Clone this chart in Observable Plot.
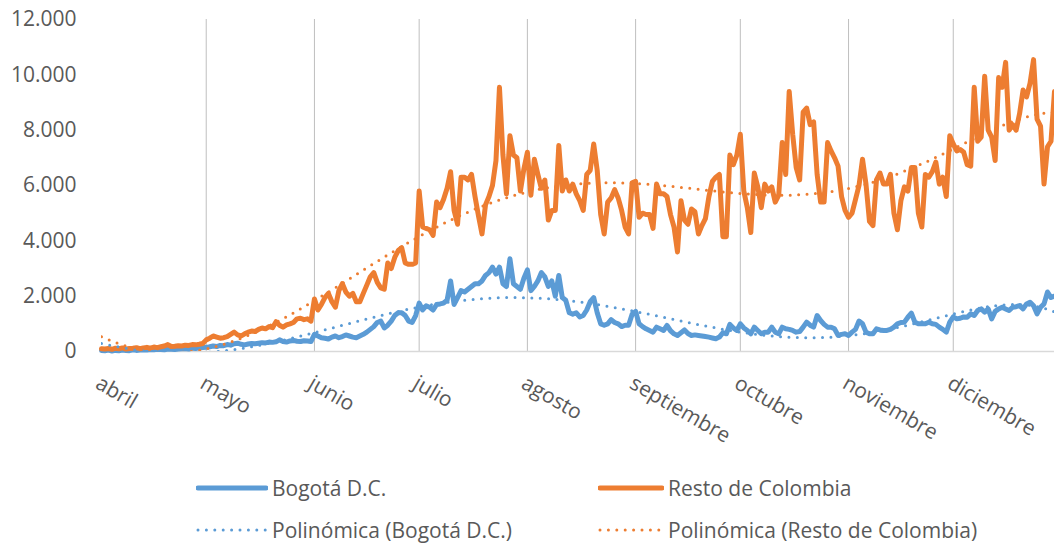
<!DOCTYPE html>
<html>
<head>
<meta charset="utf-8">
<script src="https://cdn.jsdelivr.net/npm/d3@7"></script>
<script src="https://cdn.jsdelivr.net/npm/@observablehq/plot@0.6"></script>
<style>
  html, body { margin: 0; padding: 0; background: #fff; }
  #wrap { position: relative; width: 1054px; height: 547px; font-family: 'Open Sans', sans-serif; color: #595959; }
  .leg { position: absolute; display: flex; align-items: center; font-size: 21px; white-space: nowrap; height: 30px; }
  .leg svg { display: block; }
</style>
</head>
<body>
<div id="wrap">
  <div id="chart"></div>
</div>
<script>
// ---- categories ----
const startDate = Date.UTC(2020, 3, 1);   // 1 abril 2020
const endDate = Date.UTC(2020, 11, 31);   // exclusive (last day 30 dic)
const monthLabels = ["abril", "mayo", "junio", "julio", "agosto", "septiembre", "octubre", "noviembre", "diciembre"];
const yTicks = [0, 2000, 4000, 6000, 8000, 10000, 12000];
const seriesNames = ["Bogotá D.C.", "Resto de Colombia", "Polinómica (Bogotá D.C.)", "Polinómica (Resto de Colombia)"];

// ---- Bogotá D.C. daily values, by month ----
const bogAbr = [40,30,50,20,40,30,50,40,30,60,40,50,60,50,70,60,80,70,60,90,80,70,90,100,110,90,120,110,130,140];
const bogMay = [150,170,200,180,220,210,250,230,280,300,260,240,270,290,280,300,320,310,340,330,350,420,360,340,380,400,370,360,390,380,360];
const bogJun = [620,560,500,480,450,520,560,500,540,600,560,520,500,560,620,700,800,900,1050,1100,850,950,1100,1300,1400,1400,1300,1100,1050,1300];
const bogJul = [1750,1500,1650,1600,1500,1700,1720,1750,1850,2550,1700,1950,2200,2150,2250,2350,2450,2450,2550,2750,2850,3050,2800,3050,2450,2350,3350,2450,2350,2250,2650];
const bogAgo = [2950,2200,2350,2550,2850,2700,2350,2550,2000,2750,1950,1850,1400,1350,1400,1250,1300,1500,1800,1950,1400,1000,950,1000,1150,1050,1000,900,950,950,1350];
const bogSep = [1450,1000,900,820,760,700,880,820,760,940,750,640,580,680,780,650,580,600,580,560,540,520,490,460,520,680,640,980,850,760];
const bogOct = [1000,850,760,640,880,760,640,700,700,880,700,640,880,820,800,760,700,720,880,1060,950,880,1300,1120,980,880,880,820,580,620,640];
const bogNov = [580,700,800,1100,1000,700,640,640,820,780,760,760,800,880,1000,1050,1060,1240,1390,1060,1000,1000,1000,1060,1000,980,880,800,700,1060];
const bogDic = [1250,1180,1200,1250,1240,1360,1300,1480,1540,1420,1540,1180,1450,1540,1600,1540,1480,1600,1620,1660,1540,1720,1780,1650,1360,1600,1720,2150,1950,2000];

// ---- Resto de Colombia daily values, by month ----
const resAbr = [100,90,110,80,120,100,130,90,110,120,140,100,130,150,120,160,140,170,200,250,180,190,210,200,230,220,250,240,260,290];
const resMay = [420,480,560,520,480,500,540,620,700,600,560,640,700,740,720,800,850,820,900,860,1080,950,880,960,1000,1050,1180,1200,1150,1180,1100];
const resJun = [1900,1500,1700,1950,2100,1800,1600,2200,2450,2150,2000,2100,1800,1800,2100,2400,2700,2850,2500,2300,2250,3200,3000,3400,3650,3750,3200,3150,3150,3200];
const resJul = [5800,4500,4450,4400,4200,5400,5200,5500,5900,6500,5100,4600,6300,6300,6200,6400,5600,4900,4250,5300,5600,6000,6900,9550,7100,5700,7800,7100,7000,5800,6600];
const resAgo = [7200,5650,6950,6400,5900,6200,4750,5100,5100,7450,5800,6200,5800,6050,5700,5450,5100,6400,6550,7500,6550,4950,4250,5400,5550,5850,5550,5100,4500,4250,6100];
const resSep = [6150,4850,5000,4950,4950,4450,6050,5700,5700,5600,4950,4500,3600,5450,4750,4600,5150,5050,4250,4550,4800,5600,6150,6300,6400,4150,4150,7100,6750,7100];
const resOct = [7850,5800,5200,4300,6450,5950,5200,6050,5800,5950,5400,5650,7550,6400,9400,7850,6650,6200,8650,8800,8200,8300,6400,5400,5400,7550,7250,7000,6700,5600,5100];
const resNov = [4850,5000,5500,6000,6950,6050,4700,4550,6200,6450,6050,6050,6400,5000,4400,5450,5950,5800,6650,6650,5000,4500,6400,6300,6500,6850,6050,6300,5600,7800];
const resDic = [7500,7250,7300,7200,6750,6700,9550,7600,7750,9950,8000,7750,6900,9900,9550,10450,8000,8200,8000,8600,9450,9200,9700,10550,8400,8150,6050,7400,7600,9400];

// ---- colours ----
const blue = "#5B9BD5";
const orange = "#ED7D31";
const textColor = "#595959";

// ---- build tables ----
const dates = d3.utcDay.range(new Date(startDate), new Date(endDate));
const bogota = [].concat(bogAbr, bogMay, bogJun, bogJul, bogAgo, bogSep, bogOct, bogNov, bogDic);
const resto = [].concat(resAbr, resMay, resJun, resJul, resAgo, resSep, resOct, resNov, resDic);

// polynomial (order 6) least-squares trendline, like Excel's "Polinómica"
function polyTrend(values, order) {
  const n = values.length, c = (n - 1) / 2;
  const t = values.map((_, i) => (i - c) / c);
  const m = order + 1;
  const A = Array.from({length: m}, () => new Array(m + 1).fill(0));
  for (let i = 0; i < n; i++) {
    const p = [1];
    for (let k = 1; k < 2 * m; k++) p[k] = p[k - 1] * t[i];
    for (let r = 0; r < m; r++) {
      for (let s = 0; s < m; s++) A[r][s] += p[r + s];
      A[r][m] += p[r] * values[i];
    }
  }
  for (let col = 0; col < m; col++) {
    let piv = col;
    for (let r = col + 1; r < m; r++) if (Math.abs(A[r][col]) > Math.abs(A[piv][col])) piv = r;
    [A[col], A[piv]] = [A[piv], A[col]];
    for (let r = 0; r < m; r++) {
      if (r === col) continue;
      const f = A[r][col] / A[col][col];
      for (let s = col; s <= m; s++) A[r][s] -= f * A[col][s];
    }
  }
  const coef = A.map((row, r) => row[m] / row[r]);
  return t.map(x => coef.reduce((acc, a, k) => acc + a * Math.pow(x, k), 0));
}
const bogTrend = polyTrend(bogota, 6);
const resTrend = polyTrend(resto, 6);

const rows = dates.map((d, i) => ({date: d, bog: bogota[i], res: resto[i], bogT: bogTrend[i], resT: resTrend[i]}));
const months = monthLabels.map((label, i) => ({date: new Date(Date.UTC(2020, 3 + i, 1)), label}));

const esLocale = d3.formatLocale({decimal: ",", thousands: ".", grouping: [3], currency: ["", ""]});
const fmt = esLocale.format(",");

const chart = Plot.plot({
  width: 1054,
  height: 460,
  marginLeft: 101,
  marginRight: 0,
  marginTop: 19,
  marginBottom: 109,
  style: {fontFamily: "'Open Sans', sans-serif", fontSize: "21px", color: textColor, background: "#fff", overflow: "visible"},
  x: {type: "utc", domain: [dates[0], dates[dates.length - 1]], axis: null},
  y: {domain: [0, 12000], ticks: yTicks, tickFormat: fmt, tickSize: 0, tickPadding: 25, label: null},
  marks: [
    Plot.ruleX(months.slice(1), {x: "date", stroke: "#bfbfbf", strokeWidth: 1}),
    Plot.ruleY([0], {stroke: "#d9d9d9", strokeWidth: 1.5}),
    Plot.lineY(rows, {x: "date", y: "bog", stroke: blue, strokeWidth: 5, strokeLinejoin: "round", strokeLinecap: "round"}),
    Plot.lineY(rows, {x: "date", y: "res", stroke: orange, strokeWidth: 5, strokeLinejoin: "round", strokeLinecap: "round"}),
    Plot.lineY(rows, {x: "date", y: "bogT", stroke: blue, strokeWidth: 3, strokeDasharray: "0 8.4", strokeLinecap: "round", clip: true}),
    Plot.lineY(rows, {x: "date", y: "resT", stroke: orange, strokeWidth: 3, strokeDasharray: "0 8.4", strokeLinecap: "round", clip: true}),
    Plot.text(months, {x: "date", frameAnchor: "bottom", text: "label", rotate: 30, textAnchor: "start", lineAnchor: "middle", dx: -4, dy: 30, fill: textColor, fontSize: 21})
  ]
});
document.getElementById("chart").appendChild(chart);

// ---- legend (HTML, below the SVG) ----
const wrap = document.getElementById("wrap");
const legItems = [
  {name: seriesNames[0], color: blue, dotted: false, left: 196, top: 473, w: 72},
  {name: seriesNames[1], color: orange, dotted: false, left: 598, top: 473, w: 66},
  {name: seriesNames[2], color: blue, dotted: true, left: 196, top: 515, w: 72},
  {name: seriesNames[3], color: orange, dotted: true, left: 598, top: 515, w: 66}
];
legItems.forEach(it => {
  const div = document.createElement("div");
  div.className = "leg";
  div.style.left = it.left + "px";
  div.style.top = it.top + "px";
  const dash = it.dotted ? 'stroke-dasharray="0 8.4" stroke-width="3"' : 'stroke-width="5"';
  div.innerHTML = `<svg width="${it.w}" height="10"><line x1="2" x2="${it.w - 2}" y1="5" y2="5" stroke="${it.color}" ${dash} stroke-linecap="round"/></svg><span style="margin-left:4px">${it.name}</span>`;
  wrap.appendChild(div);
});
</script>
</body>
</html>
